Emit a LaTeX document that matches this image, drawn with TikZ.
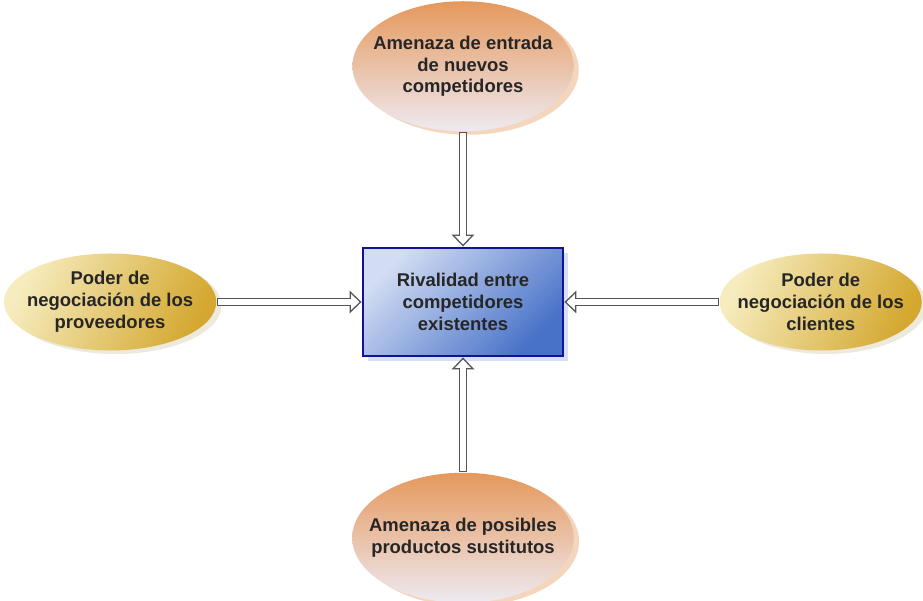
\documentclass[tikz,border=0pt]{standalone}
\usepackage{fontspec}
\setmainfont{Liberation Sans}
\usetikzlibrary{shapes.geometric, arrows.meta, positioning, shadows}
\definecolor{naranja}{RGB}{229,152,92}
\definecolor{naranjaclaro}{RGB}{238,234,242}
\definecolor{oro}{RGB}{212,168,48}
\definecolor{oroclaro}{RGB}{246,236,190}
\definecolor{azul}{RGB}{72,114,200}
\definecolor{azulmedio}{RGB}{100,138,212}
\definecolor{azulclaro}{RGB}{210,220,243}
\definecolor{borde}{RGB}{18,18,150}
\definecolor{gris}{RGB}{85,85,85}
\tikzstyle{texto} = [font=\fontsize{10.5}{12.5}\selectfont\bfseries, text=black!85, align=center]
\tikzstyle{amenaza} = [texto, ellipse, minimum width=4.42cm, minimum height=2.6cm, inner ysep=0pt, top color=naranja, middle color=naranja!72!naranjaclaro, bottom color=naranjaclaro, drop shadow={shadow xshift=3pt, shadow yshift=-2pt, fill=naranja!45, opacity=0.9}]
\tikzstyle{poder} = [texto, ellipse, minimum width=4.24cm, minimum height=1.94cm, inner ysep=0pt, left color=oroclaro, right color=oro, shading angle=65, drop shadow={shadow xshift=3pt, shadow yshift=-2pt, fill=oroclaro!70!gray!45, opacity=0.9}]
\tikzstyle{rival} = [texto, rectangle, minimum width=4cm, minimum height=2.16cm, draw=borde, line width=1.6pt, top color=azulclaro, middle color=azulmedio, bottom color=azul, shading angle=45, drop shadow={shadow xshift=3pt, shadow yshift=-3pt, fill=azulclaro, opacity=0.9}]
\tikzstyle{flecha} = [white, line width=3pt, shorten <=0.8pt, shorten >=1.2pt, -{Triangle[length=4.8pt, width=8.8pt]}, preaction={draw=gris, line width=4.6pt, shorten <=0pt, shorten >=0pt, -{Triangle[length=6.8pt, width=12.5pt]}}]

\begin{document}
\begin{tikzpicture}
            \useasboundingbox (-9.26,6.04) rectangle (9.2,-5.98);
            \node[rival] (rival) at (0,0) {Rivalidad entre\\competidores\\existentes};
            \node[amenaza, inner xsep=-0.26cm, above=2.3cm of rival] (entrada) {Amenaza de entrada\\de nuevos\\competidores};
            \node[amenaza, inner xsep=-0.31cm, below=2.3cm of rival] (sustitutos) {Amenaza de posibles\\productos sustitutos};
            \node[poder, inner xsep=-0.16cm, left=2.9cm of rival] (proveedores) {Poder de\\negociación de los\\proveedores};
            \node[poder, inner xsep=-0.25cm, minimum width=4.04cm, right=3.1cm of rival] (clientes) {Poder de\\negociación de los\\clientes};

            \draw[flecha] (entrada) -- (rival);
            \draw[flecha] (sustitutos) -- (rival);
            \draw[flecha] (proveedores) -- (rival);
            \draw[flecha] (clientes) -- (rival);
        \end{tikzpicture}
\end{document}
